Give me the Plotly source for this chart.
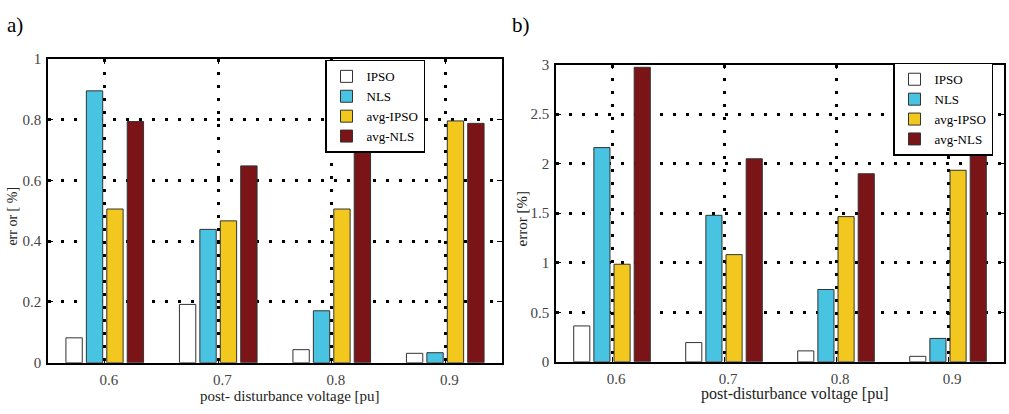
import plotly.graph_objects as go

voltages = [0.6, 0.7, 0.8, 0.9]
series_names = ["IPSO", "NLS", "avg-IPSO", "avg-NLS"]
colors = ["#FFFFFF", "#48C4E2", "#F2C81E", "#7B1416"]

# panel a
a_ipso = [0.082, 0.192, 0.043, 0.031]
a_nls = [0.895, 0.439, 0.171, 0.033]
a_avg_ipso = [0.506, 0.467, 0.506, 0.796]
a_avg_nls = [0.794, 0.648, 0.693, 0.788]

# panel b
b_ipso = [0.362, 0.194, 0.110, 0.055]
b_nls = [2.163, 1.479, 0.730, 0.236]
b_avg_ipso = [0.985, 1.082, 1.466, 1.934]
b_avg_nls = [2.974, 2.050, 1.899, 2.109]

a_ticks = [0, 0.2, 0.4, 0.6, 0.8, 1]
b_ticks = [0, 0.5, 1, 1.5, 2, 2.5, 3]

W, H = 1009, 414
SERIF = "Liberation Serif, Times New Roman, serif"

fig = go.Figure()
for name, col, ya, yb in zip(series_names, colors,
                             [a_ipso, a_nls, a_avg_ipso, a_avg_nls],
                             [b_ipso, b_nls, b_avg_ipso, b_avg_nls]):
    fig.add_trace(go.Bar(x=voltages, y=ya, name=name, marker_color=col,
                         marker_line=dict(color="#333333", width=1),
                         xaxis="x", yaxis="y", legend="legend", legendgroup="a" + name))
    fig.add_trace(go.Bar(x=voltages, y=yb, name=name, marker_color=col,
                         marker_line=dict(color="#333333", width=1),
                         xaxis="x2", yaxis="y2", legend="legend2", legendgroup="b" + name))

def px_x(p):
    return p / W

def px_y(p):
    return 1 - p / H

axis_common = dict(showline=True, linecolor="black", linewidth=1.5, mirror="ticks",
                   ticks="inside", ticklen=5, tickcolor="black",
                   showgrid=True, gridcolor="black", gridwidth=3, griddash="3px,10px",
                   zeroline=False, tickfont=dict(family=SERIF, size=15, color="#444444"))

legend_common = dict(xanchor="left", yanchor="top", bgcolor="white", bordercolor="black",
                     borderwidth=1.5, font=dict(family=SERIF, size=13, color="black"),
                     tracegroupgap=0, itemwidth=30)

fig.update_layout(
    width=W, height=H,
    margin=dict(l=0, r=0, t=0, b=0),
    paper_bgcolor="white", plot_bgcolor="white",
    barmode="group", bargap=0.28, bargroupgap=0.2,
    font=dict(family=SERIF, size=15, color="black"),
    xaxis=dict(domain=[px_x(48), px_x(502)], range=[0.55, 0.95], tickvals=voltages,
               ticktext=[str(v) for v in voltages], anchor="y",
               ticklabelshift=4, ticklabelstandoff=3, **axis_common),
    yaxis=dict(domain=[px_y(369), px_y(53)], range=[0, 1], tickvals=a_ticks,
               anchor="x", ticklabelstandoff=2, **axis_common),
    xaxis2=dict(domain=[px_x(556), px_x(1004)], range=[0.55, 0.95], tickvals=voltages,
                ticktext=[str(v) for v in voltages], anchor="y2",
                ticklabelshift=4, ticklabelstandoff=2, **axis_common),
    yaxis2=dict(domain=[px_y(368), px_y(59)], range=[0, 3], tickvals=b_ticks,
                anchor="x2", ticklabelstandoff=2, **axis_common),
    legend=dict(x=px_x(325), y=px_y(54), **legend_common),
    legend2=dict(x=px_x(893), y=px_y(57), **legend_common),
)

annots = [
    dict(text="a)", x=px_x(5), y=px_y(18), xanchor="left", yanchor="middle",
         font=dict(family=SERIF, size=21, color="black")),
    dict(text="b)", x=px_x(510), y=px_y(18), xanchor="left", yanchor="middle",
         font=dict(family=SERIF, size=21, color="black")),
    dict(text="err or [ %]", x=px_x(13), y=px_y(217), xanchor="center", yanchor="middle",
         textangle=-90, font=dict(family=SERIF, size=14, color="#222222")),
    dict(text="error [%]", x=px_x(522), y=px_y(220), xanchor="center", yanchor="middle",
         textangle=-90, font=dict(family=SERIF, size=15, color="#222222")),
    dict(text="post- disturbance voltage [pu]", x=px_x(290), y=px_y(404), xanchor="center",
         yanchor="middle", font=dict(family=SERIF, size=15, color="#222222")),
    dict(text="post-disturbance voltage [pu]", x=px_x(795), y=px_y(401), xanchor="center",
         yanchor="middle", font=dict(family=SERIF, size=16, color="#222222")),
]
for a in annots:
    a.update(xref="paper", yref="paper", showarrow=False)
    fig.add_annotation(**a)

fig.write_html("out.html")
